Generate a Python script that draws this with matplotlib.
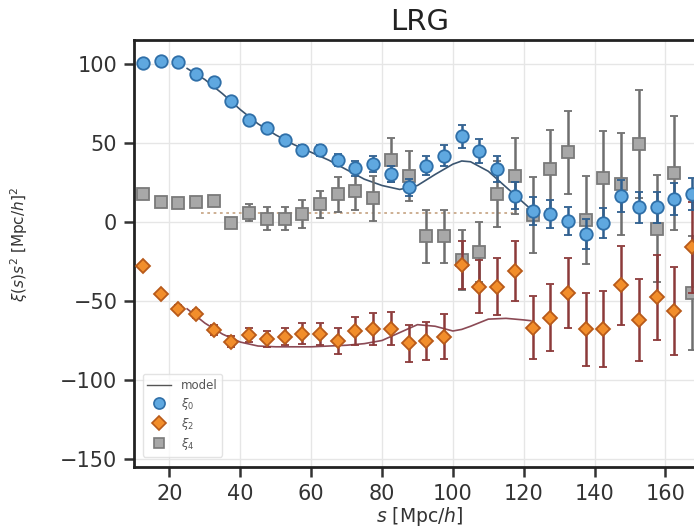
import matplotlib
matplotlib.use("Agg")
import matplotlib.pyplot as plt
from matplotlib.lines import Line2D

# ---------------- data ----------------
s = [12.5, 17.5, 22.5, 27.5, 32.5, 37.5, 42.5, 47.5, 52.5, 57.5, 62.5, 67.5,
     72.5, 77.5, 82.5, 87.5, 92.5, 97.5, 102.5, 107.5, 112.5, 117.5, 122.5,
     127.5, 132.5, 137.5, 142.5, 147.5, 152.5, 157.5, 162.5, 167.5]

xi0 = [100.4, 101.9, 100.9, 93.5, 88.2, 76.6, 64.6, 59.1, 51.9, 45.6, 45.4, 39.2,
       33.8, 36.5, 30.2, 21.8, 35.5, 41.8, 54.0, 45.0, 33.4, 16.5, 7.0,
       4.9, 0.7, -7.8, -0.8, 16.5, 9.1, 9.1, 14.4, 17.5]
xi0_err = [1.0, 1.0, 1.0, 1.2, 1.5, 1.7, 2.0, 2.2, 2.5, 3.0, 3.5, 4.0,
           4.5, 5.0, 5.0, 5.5, 6.0, 6.5, 7.0, 7.5, 8.0, 8.5, 9.0,
           9.0, 9.0, 9.5, 9.5, 10.0, 10.0, 10.0, 10.0, 10.0]

xi2 = [-27.8, -45.3, -54.8, -58.0, -68.3, -75.9, -71.7, -74.2, -72.5, -70.6, -71.1, -75.3,
       -69.0, -67.9, -67.5, -76.8, -75.3, -72.5, -27.2, -40.9, -40.9, -31.0, -66.8,
       -60.5, -45.1, -67.9, -67.9, -40.0, -62.0, -47.8, -56.3, -16.2]
xi2_err = [1.0, 1.5, 2.0, 2.5, 3.0, 3.5, 4.5, 5.0, 5.5, 6.5, 7.0, 8.0,
           9.0, 10.0, 10.5, 11.5, 12.0, 14.0, 15.0, 17.0, 18.0, 19.0, 20.0,
           21.0, 22.0, 23.0, 24.0, 25.0, 26.0, 27.0, 28.0, 29.0]

xi4 = [17.5, 12.3, 11.8, 12.3, 13.3, -0.8, 5.9, 2.1, 2.1, 4.9, 11.2, 17.5,
       19.6, 14.8, 39.2, 29.0, -9.2, -9.2, -24.0, -19.0, 17.5, 29.1, 4.5,
       33.4, 43.9, 1.3, 27.5, 23.9, 49.2, -4.2, 30.8, -45.1]
xi4_err = [1.0, 1.5, 1.5, 2.0, 2.5, 3.0, 5.5, 7.0, 7.5, 9.0, 8.5, 11.0,
           12.0, 14.0, 14.0, 16.0, 17.0, 17.0, 19.0, 19.0, 21.0, 24.0, 24.0,
           25.0, 26.0, 28.0, 30.0, 32.0, 34.0, 34.0, 36.0, 36.0]

model_s = [25, 30, 35, 40, 45, 50, 55, 60, 65, 70, 75, 80, 85, 90, 95, 100,
           102.5, 105, 110, 115, 120, 122]
model0 = [97, 90, 81, 71, 62, 55, 49, 44, 39, 33, 27, 23, 20.5, 23, 30, 36.5,
          38.5, 38, 32, 22, 12, 8]
model2 = [-55, -64, -71, -76, -78.5, -79, -79, -79, -78.5, -78, -77, -75, -70, -65, -66, -69,
          -68, -66, -61.5, -61, -62, -62.5]
model4_s = [29, 40, 60, 80, 100, 117]
model4 = [5.5, 5.5, 5.5, 5.5, 5.5, 5.5]

x_ticks = [20, 40, 60, 80, 100, 120, 140, 160]
y_ticks = [-150, -100, -50, 0, 50, 100]
y_tick_labels = ["\u2212150", "\u2212100", "\u221250", "0", "50", "100"]

# ---------------- figure ----------------
W, H = 694, 527
fig = plt.figure(figsize=(W / 100, H / 100), dpi=100)
left_px, top_px, bot_px, right_px = 134, 40, 467, 706
ax = fig.add_axes([left_px / W, (H - bot_px) / H,
                   (right_px - left_px) / W, (bot_px - top_px) / H])

ax.grid(True, color="#e6e6e6", linewidth=1.0, zorder=0)
ax.set_axisbelow(True)

# model lines
ax.plot(model_s, model0, color="#3b5570", lw=1.2, zorder=2)
ax.plot(model_s, model2, color="#8b4a55", lw=1.2, zorder=2)
ax.plot(model4_s, model4, color="#c9a98a", lw=1.3, ls=(0, (1.5, 2)), zorder=2)

# data
ax.errorbar(s, xi4, yerr=xi4_err, fmt="s", ms=8, mfc="#a8a8a8", mec="#7a7a7a", mew=1.3,
            ecolor="#6f6f6f", elinewidth=1.8, capsize=3, capthick=1.5, zorder=3)
ax.errorbar(s, xi2, yerr=xi2_err, fmt="D", ms=7.5, mfc="#f28e2b", mec="#b85a1a", mew=1.3,
            ecolor="#8c3a3a", elinewidth=1.8, capsize=3, capthick=1.5, zorder=4)
ax.errorbar(s, xi0, yerr=xi0_err, fmt="o", ms=9, mfc="#5fa8e0", mec="#2f6fa8", mew=1.3,
            ecolor="#2f5f8f", elinewidth=1.8, capsize=3, capthick=1.5, zorder=5)

ax.set_xlim(10, 10 + (right_px - left_px) / 3.543)
ax.set_ylim(-155, 115)
ax.set_xticks(x_ticks)
ax.set_yticks(y_ticks)
ax.set_yticklabels(y_tick_labels)

for sp in ax.spines.values():
    sp.set_linewidth(2.0)
    sp.set_color("#222222")
ax.tick_params(axis="both", labelsize=15, length=7, width=1.8, color="#333333",
               labelcolor="#333333", pad=5)

ax.set_title("LRG", fontsize=21, color="#222222", pad=7)
ax.set_xlabel(r"$s$ [Mpc/$h$]", fontsize=13.5, color="#333333", labelpad=1)
ax.set_ylabel(r"$\xi(s)s^2$ [Mpc/$h$]$^2$", fontsize=11, color="#333333")
ax.yaxis.set_label_coords(-(left_px - 30) / (right_px - left_px), 0.52)

handles = [
    Line2D([], [], color="#555555", lw=1.0),
    Line2D([], [], marker="o", ls="none", ms=8, mfc="#5fa8e0", mec="#2f6fa8", mew=1.2),
    Line2D([], [], marker="D", ls="none", ms=7, mfc="#f28e2b", mec="#b85a1a", mew=1.2),
    Line2D([], [], marker="s", ls="none", ms=7, mfc="#a8a8a8", mec="#7a7a7a", mew=1.2),
]
labels = ["model", r"$\xi_0$", r"$\xi_2$", r"$\xi_4$"]
leg = ax.legend(handles, labels, loc="lower left", bbox_to_anchor=(0.005, 0.01),
                fontsize=8.5, frameon=True, framealpha=0.8, edgecolor="#dddddd",
                handlelength=2.0, labelspacing=0.35, borderpad=0.4)
for t in leg.get_texts():
    t.set_color("#555555")

fig.savefig("out.png", dpi=100)
